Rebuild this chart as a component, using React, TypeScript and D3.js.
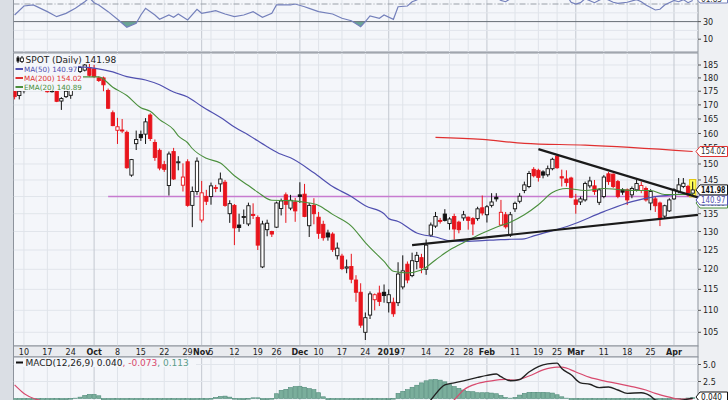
import * as d3 from 'd3';

// daily candles: date, open, high, low, close
const candles: [string, number, number, number, number][] = [
  ['2018-09-06', 175, 175.5, 172, 173], ['2018-09-07', 173.4, 175.3, 172, 175],
  ['2018-09-10', 175.2, 177, 174.2, 175.8], ['2018-09-11', 176, 178, 175.8, 177.5],
  ['2018-09-12', 177.5, 179, 176.5, 178], ['2018-09-13', 178, 179.5, 176.5, 177],
  ['2018-09-14', 177, 178.5, 176, 176.5], ['2018-09-17', 175.5, 176, 174.5, 174.8],
  ['2018-09-18', 175, 175.6, 174.5, 175.2], ['2018-09-19', 175.2, 175.6, 171, 171.3],
  ['2018-09-20', 171.4, 172.8, 168.2, 172.3], ['2018-09-21', 173, 175.3, 172.5, 175],
  ['2018-09-24', 173.5, 175.5, 172.2, 175.3], ['2018-09-25', 176, 181, 175.5, 180.5],
  ['2018-09-26', 182.5, 184.5, 181.5, 184], ['2018-09-27', 183, 186, 182.5, 185],
  ['2018-09-28', 184, 185.5, 180.5, 181], ['2018-10-01', 183.5, 185, 180, 180.5],
  ['2018-10-02', 180, 180.5, 178.5, 179], ['2018-10-03', 180, 180.5, 175, 177.4],
  ['2018-10-04', 175.3, 176, 168.5, 168.8], ['2018-10-05', 167.2, 168, 162.5, 162.7],
  ['2018-10-08', 161.1, 165.4, 156.5, 162.3], ['2018-10-09', 161.2, 165, 160.2, 161],
  ['2018-10-10', 160.4, 161, 148.5, 148.8], ['2018-10-11', 146.5, 151.6, 146, 151.4],
  ['2018-10-12', 156.6, 161, 154.5, 158], ['2018-10-15', 159.7, 161, 157.5, 158.6],
  ['2018-10-16', 159.8, 165.3, 156.5, 164], ['2018-10-17', 166.4, 167, 157.5, 158.3],
  ['2018-10-18', 157, 158, 151, 152.1], ['2018-10-19', 154.4, 155, 148, 148.7],
  ['2018-10-22', 149.8, 151, 147.5, 148.3], ['2018-10-23', 143.3, 154, 140.3, 153.2],
  ['2018-10-24', 154, 155.2, 145, 145.3], ['2018-10-25', 150.5, 152.5, 148, 150.7],
  ['2018-10-26', 143.4, 150.2, 141.5, 145.9], ['2018-10-29', 150.7, 151.5, 137, 137.4],
  ['2018-10-30', 137.4, 143, 131.2, 141.5], ['2018-10-31', 141.5, 152.1, 140.5, 150.9],
  ['2018-11-01', 133.2, 144.7, 132.5, 141.1], ['2018-11-02', 140, 142, 137.5, 138.6],
  ['2018-11-05', 140, 144.2, 137.6, 143.2], ['2018-11-06', 142.7, 143.5, 141.3, 142.4],
  ['2018-11-07', 143.8, 147.3, 141.4, 145.3], ['2018-11-08', 144.3, 145, 137, 137.4],
  ['2018-11-09', 135, 138.9, 132.4, 137.9], ['2018-11-12', 137.4, 137.8, 126.3, 131],
  ['2018-11-13', 131.8, 135, 129.9, 131.1], ['2018-11-14', 134, 136.2, 132.1, 134.2],
  ['2018-11-15', 132.1, 138.2, 131.5, 137.3], ['2018-11-16', 134.8, 138, 133.5, 134.5],
  ['2018-11-19', 133.9, 134.5, 125, 126.3], ['2018-11-20', 120.6, 133, 120.3, 132.1],
  ['2018-11-21', 130.5, 133.3, 128.7, 132.3], ['2018-11-23', 130, 130.2, 128.5, 129.3],
  ['2018-11-26', 131.2, 138.5, 131, 138.1], ['2018-11-27', 136.5, 139.4, 134.5, 138.7],
  ['2018-11-28', 140.5, 141.2, 132.4, 137.7], ['2018-11-29', 136.6, 140.5, 136, 138.9],
  ['2018-11-30', 138.4, 139.6, 132.7, 135.8], ['2018-12-03', 140.5, 144.3, 138.1, 140],
  ['2018-12-04', 140.7, 143.8, 134, 134.2], ['2018-12-06', 131.6, 138.1, 128.5, 137.4],
  ['2018-12-07', 137.4, 139.5, 132, 135], ['2018-12-10', 134, 135.5, 128, 129.5],
  ['2018-12-11', 132, 133, 127.5, 128.3], ['2018-12-12', 129.6, 130.5, 127.5, 128.5],
  ['2018-12-13', 129.3, 129.8, 124.5, 125.1], ['2018-12-14', 123.5, 127, 122.5, 125.5],
  ['2018-12-17', 123.4, 124, 119.8, 120.2], ['2018-12-18', 120.3, 122.5, 119, 120.6],
  ['2018-12-19', 120.7, 124, 116.5, 117.5], ['2018-12-20', 117.3, 118.5, 112, 114.3],
  ['2018-12-21', 114.3, 116.5, 106, 106.6], ['2018-12-24', 105, 109.5, 103.3, 108.3],
  ['2018-12-26', 108.9, 114.5, 108, 113.9], ['2018-12-27', 112.5, 114, 110, 113.7],
  ['2018-12-28', 114.1, 115.9, 111, 112.1], ['2018-12-31', 114.3, 116.2, 111.8, 113.5],
  ['2019-01-02', 111.8, 115, 109.5, 113.7], ['2019-01-03', 111.9, 113, 108.5, 109.2],
  ['2019-01-04', 111.8, 121.8, 111, 118.8], ['2019-01-07', 115.6, 123.6, 115, 119.6],
  ['2019-01-08', 121.3, 122, 116.5, 117.3], ['2019-01-09', 118.4, 124.3, 118, 122.2],
  ['2019-01-10', 122, 124.5, 120, 123.6], ['2019-01-11', 123, 124, 119, 120.4],
  ['2019-01-14', 120, 127.8, 118.6, 126.3], ['2019-01-15', 129, 132.5, 128.5, 131.8],
  ['2019-01-16', 131.5, 135.5, 131, 134.2], ['2019-01-17', 133.1, 133.8, 132.2, 132.9],
  ['2019-01-18', 134.9, 136.3, 132.8, 133.1], ['2019-01-22', 132.2, 134, 130.5, 133.5],
  ['2019-01-23', 134.2, 135, 127.8, 130.7], ['2019-01-24', 132.6, 133, 129.5, 130.5],
  ['2019-01-25', 133.8, 135.8, 133, 134.7], ['2019-01-28', 134, 134.2, 130.5, 133.1],
  ['2019-01-29', 133.6, 134, 129, 132.1], ['2019-01-30', 133.6, 137, 133, 136.4],
  ['2019-01-31', 136.7, 140.3, 134.5, 135.2], ['2019-02-01', 134.7, 137.5, 132.5, 137],
  ['2019-02-04', 137.4, 141, 136.8, 138.4], ['2019-02-05', 139.8, 141, 138.5, 139.3],
  ['2019-02-06', 131.8, 139, 131.5, 135.4], ['2019-02-07', 134.7, 135.5, 130.8, 131.3],
  ['2019-02-08', 129, 135.5, 128.5, 134.7], ['2019-02-11', 136.4, 138.5, 135.5, 138],
  ['2019-02-12', 138.6, 141, 138, 140.1], ['2019-02-13', 141.8, 144.5, 141, 143.5],
  ['2019-02-14', 143, 147.8, 142.5, 147], ['2019-02-15', 148.3, 149, 145.8, 146.3],
  ['2019-02-19', 148, 148.5, 144.5, 145.8], ['2019-02-20', 147.5, 148, 145.5, 146.5],
  ['2019-02-21', 146.6, 149.5, 146, 148.5], ['2019-02-22', 148.5, 152, 148, 151.5],
  ['2019-02-25', 152.5, 153, 148.5, 148.8], ['2019-02-26', 146, 148.2, 143, 145.6],
  ['2019-02-27', 145.3, 148, 143, 144.2], ['2019-02-28', 145.6, 146, 139.5, 139.8],
  ['2019-03-01', 139, 140.8, 135, 137.7], ['2019-03-04', 138.4, 140, 137.5, 139.3],
  ['2019-03-05', 139, 144.5, 138.5, 143.9], ['2019-03-06', 143.2, 146, 142.5, 144.7],
  ['2019-03-07', 143.2, 145, 140.5, 141.5], ['2019-03-08', 138.3, 142.5, 137.5, 142],
  ['2019-03-11', 140, 146.5, 139.5, 145.9], ['2019-03-12', 146.9, 147.5, 143.5, 144.5],
  ['2019-03-13', 146.8, 147, 142.5, 143], ['2019-03-14', 144.5, 145, 139.5, 140],
  ['2019-03-15', 142, 142.5, 140.5, 141.3], ['2019-03-18', 142, 142.4, 137.5, 139],
  ['2019-03-19', 140.5, 143, 139.5, 142.4], ['2019-03-20', 142, 145, 141.5, 143.9],
  ['2019-03-21', 141.8, 144.5, 141, 143.3], ['2019-03-22', 142.4, 143, 138.5, 139],
  ['2019-03-25', 138.1, 142.2, 136, 141.5], ['2019-03-26', 139.3, 140, 135.5, 137.3],
  ['2019-03-27', 138.1, 138.5, 131.5, 133.6], ['2019-03-28', 134.3, 137.6, 133.5, 137.3],
  ['2019-03-29', 135.8, 139.5, 135.5, 139], ['2019-04-01', 139.3, 142.5, 139, 142],
  ['2019-04-02', 141.5, 145.6, 141, 143.5], ['2019-04-03', 143, 145.6, 142.5, 144],
  ['2019-04-04', 143, 143.5, 140, 140.5], ['2019-04-05', 141, 144.5, 140.5, 141.98],
];

const ma50: [string, number][] = [
  ['2018-09-06', 186], ['2018-09-26', 184.3], ['2018-10-01', 183.8], ['2018-10-05', 182.3],
  ['2018-10-10', 180.5], ['2018-10-16', 179.2], ['2018-10-19', 177.4], ['2018-10-24', 174.7],
  ['2018-10-29', 172.9], ['2018-11-01', 169.5], ['2018-11-08', 164.5], ['2018-11-12', 162.2],
  ['2018-11-15', 159.5], ['2018-11-21', 155.6], ['2018-11-27', 153.1], ['2018-11-29', 152],
  ['2018-12-07', 147.2], ['2018-12-13', 143], ['2018-12-19', 140], ['2018-12-24', 137.3],
  ['2018-12-31', 135], ['2019-01-02', 133.6], ['2019-01-04', 132.8], ['2019-01-10', 129.6],
  ['2019-01-16', 128.5], ['2019-01-22', 127.5], ['2019-01-28', 127.3], ['2019-01-31', 127.5],
  ['2019-02-06', 127.8], ['2019-02-13', 128], ['2019-02-15', 128.8], ['2019-02-28', 131.8],
  ['2019-03-11', 135.6], ['2019-03-19', 138.5], ['2019-03-26', 140], ['2019-03-29', 140.4],
  ['2019-04-05', 140.97],
];

const ema20: [string, number][] = [
  ['2018-09-06', 176.5], ['2018-09-17', 177.5], ['2018-09-26', 180.4], ['2018-10-02', 180.4],
  ['2018-10-05', 176.5], ['2018-10-10', 173.4], ['2018-10-15', 169], ['2018-10-17', 167.7],
  ['2018-10-19', 164.8], ['2018-10-24', 161.3], ['2018-10-25', 159.2], ['2018-10-29', 156.9],
  ['2018-10-30', 155], ['2018-11-02', 151.8], ['2018-11-07', 150.3], ['2018-11-12', 146.3],
  ['2018-11-15', 143.3], ['2018-11-19', 141.3], ['2018-11-23', 138.9], ['2018-11-29', 138.8],
  ['2018-12-04', 138.3], ['2018-12-10', 137.4], ['2018-12-13', 134.8], ['2018-12-19', 131.5],
  ['2018-12-24', 127], ['2018-12-31', 122], ['2019-01-03', 119.5], ['2019-01-08', 119.1],
  ['2019-01-11', 119.8], ['2019-01-16', 122.4], ['2019-01-22', 125], ['2019-01-28', 127.6],
  ['2019-01-31', 129.5], ['2019-02-05', 131.2], ['2019-02-08', 132.6], ['2019-02-13', 134.7],
  ['2019-02-19', 137.6], ['2019-02-22', 141.2], ['2019-02-27', 142.4], ['2019-03-05', 141.8],
  ['2019-03-11', 142.4], ['2019-03-14', 142.1], ['2019-03-20', 141.8], ['2019-03-25', 141.8],
  ['2019-03-28', 140.6], ['2019-04-04', 140.6], ['2019-04-05', 140.89],
];

const ma200: [string, number][] = [
  ['2019-01-16', 158.7], ['2019-01-31', 158], ['2019-02-13', 156.7], ['2019-03-05', 156.1],
  ['2019-04-05', 154.02],
];

// hand drawn annotations
const lowerTrend: [string, number][] = [['2019-01-09', 126.3], ['2019-04-05', 134.5]];
const upperTrend: [string, number][] = [['2019-02-19', 154.8], ['2019-04-05', 140.2]];
const levelLine = { from: '2018-10-04', value: 140 };

const rsi: [string, number][] = [
  ['2018-09-06', 37.5], ['2018-09-10', 47.7], ['2018-09-12', 48.9], ['2018-09-17', 41.3],
  ['2018-09-19', 35.6], ['2018-09-21', 39.4], ['2018-09-25', 45.1], ['2018-09-27', 52.6],
  ['2018-09-28', 57], ['2018-10-01', 51.5], ['2018-10-02', 48.9], ['2018-10-04', 41.3],
  ['2018-10-08', 32.6], ['2018-10-10', 23.5], ['2018-10-12', 28.1], ['2018-10-15', 37.5],
  ['2018-10-16', 45.1], ['2018-10-18', 37.5], ['2018-10-19', 32.6], ['2018-10-23', 37.5],
  ['2018-10-24', 34.9], ['2018-10-25', 38.6], ['2018-10-29', 31.8], ['2018-10-31', 44],
  ['2018-11-01', 39.4], ['2018-11-05', 41.3], ['2018-11-06', 42.4], ['2018-11-08', 38.6],
  ['2018-11-12', 35.6], ['2018-11-14', 37.5], ['2018-11-16', 41.3], ['2018-11-20', 34.9],
  ['2018-11-23', 39.4], ['2018-11-26', 48.9], ['2018-11-29', 48.9], ['2018-11-30', 50],
  ['2018-12-04', 46.9], ['2018-12-06', 45.1], ['2018-12-10', 41.3], ['2018-12-13', 38.6],
  ['2018-12-17', 33.8], ['2018-12-19', 31], ['2018-12-21', 24.2], ['2018-12-24', 29.9],
  ['2018-12-26', 36.4], ['2018-12-28', 33.8], ['2018-12-31', 37.5], ['2019-01-03', 32.6],
  ['2019-01-04', 46.9], ['2019-01-08', 47.7], ['2019-01-09', 52.6], ['2019-01-10', 54.5],
  ['2019-01-14', 62], ['2019-01-16', 66], ['2019-01-18', 64], ['2019-01-23', 59],
  ['2019-01-28', 60], ['2019-01-31', 63], ['2019-02-04', 61], ['2019-02-06', 54],
  ['2019-02-07', 52.6], ['2019-02-08', 56], ['2019-02-13', 63], ['2019-02-19', 68],
  ['2019-02-25', 70], ['2019-02-27', 60], ['2019-02-28', 52], ['2019-03-01', 50],
  ['2019-03-04', 51.5], ['2019-03-05', 56], ['2019-03-07', 51.5], ['2019-03-11', 57],
  ['2019-03-13', 52], ['2019-03-14', 50.8], ['2019-03-18', 52], ['2019-03-20', 55],
  ['2019-03-21', 52.6], ['2019-03-22', 48.9], ['2019-03-26', 43.2], ['2019-03-27', 44],
  ['2019-03-28', 48.9], ['2019-04-01', 54], ['2019-04-02', 52.6], ['2019-04-03', 55],
  ['2019-04-04', 51.5], ['2019-04-05', 54],
];

const macd: [string, number][] = [
  ['2018-09-06', -0.5], ['2018-10-08', -3], ['2018-11-05', -6], ['2018-12-04', -4.5],
  ['2018-12-27', -7], ['2019-01-10', -2.5], ['2019-01-15', -0.2], ['2019-01-18', 2.0],
  ['2019-01-23', 2.3], ['2019-01-25', 2.6], ['2019-01-30', 3.1], ['2019-02-01', 3.4],
  ['2019-02-05', 3.6], ['2019-02-06', 3.2], ['2019-02-08', 2.6], ['2019-02-12', 2.8],
  ['2019-02-14', 3.9], ['2019-02-19', 4.7], ['2019-02-21', 5.1], ['2019-02-25', 5.2],
  ['2019-02-26', 4.4], ['2019-02-28', 3.5], ['2019-03-04', 2.3], ['2019-03-06', 2.1],
  ['2019-03-08', 1.6], ['2019-03-12', 1.7], ['2019-03-14', 1.25], ['2019-03-18', 0.75],
  ['2019-03-21', 0.85], ['2019-03-25', 0.35], ['2019-03-26', -0.2], ['2019-03-29', -0.5],
  ['2019-04-03', -0.2], ['2019-04-05', 0.04],
];

const signal: [string, number][] = [
  ['2018-09-06', 2.0], ['2018-09-10', 0.75], ['2018-09-13', -0.2], ['2018-10-08', -2],
  ['2018-11-19', -5], ['2018-12-27', -5.5], ['2019-01-14', -2.5], ['2019-01-17', -1.2],
  ['2019-01-23', -0.2], ['2019-01-25', 1.25], ['2019-01-30', 2.2], ['2019-02-04', 2.6],
  ['2019-02-07', 2.8], ['2019-02-11', 2.7], ['2019-02-14', 3.3], ['2019-02-20', 4.2],
  ['2019-02-25', 4.6], ['2019-02-26', 4.6], ['2019-03-01', 3.9], ['2019-03-06', 3.1],
  ['2019-03-11', 2.6], ['2019-03-14', 2.2], ['2019-03-19', 1.75], ['2019-03-22', 1.25],
  ['2019-03-26', 0.75], ['2019-03-29', 0.2], ['2019-04-02', -0.1], ['2019-04-05', -0.073],
];

// histogram, one value per candle
const hist: number[] = [
  -1.2, -1.0, -0.9, -0.8, -0.6, -0.5, -0.4, -0.4, -0.3, -0.3, -0.2, -0.2, -0.1, 0.05,
  0.2, 0.45, 0.6, 0.6, 0.4,
  -0.2, -0.8, -1.5, -2.0, -2.2, -2.6, -2.3, -1.8, -1.4, -1.0, -1.0, -1.1, -1.0, -0.9, -0.6, -0.7,
  -0.5, -0.7, -0.6, -0.2, -0.5, -0.4, -0.3, -0.1,
  0.15, 0.3, 0.35, 0.2, -0.1, -0.3, -0.2, -0.1, 0.1, 0.1, -0.2, -0.2, -0.1,
  0.7, 1.2, 1.35, 1.6, 1.75, 1.8, 1.65, 1.45, 1.3, 0.85, 0.25,
  -0.2, -0.4, -0.5, -0.7, -0.8, -0.9, -1.1, -1.4, -1.2, -0.9, -0.8, -0.6, -0.4, -0.2, -0.1,
  0.75, 1.05, 1.3, 1.65, 1.95, 2.3, 2.6, 2.75, 2.8, 2.7, 2.45, 2.05, 1.75, 1.5, 1.25, 1.05,
  1.0, 0.85, 0.85, 0.85, 0.8, 0.7, 0.45, 0.15, 0.05, 0.15, 0.5, 0.75, 0.9, 0.9, 0.9, 0.9,
  0.85, 0.8, 0.55, 0.25, 0.05,
  -0.3, -0.6, -0.8, -0.9, -0.9, -0.9, -0.9, -0.8, -0.7, -0.7, -0.6, -0.5, -0.5, -0.4, -0.4,
  -0.4, -0.3, -0.3, -0.3, -0.3, -0.2, -0.2, -0.1, -0.05,
  0.02, 0.07, 0.113,
];

const xTicks: [string, string][] = [
  ['2018-09-10', '10'], ['2018-09-17', '17'], ['2018-09-24', '24'], ['2018-10-01', 'Oct'],
  ['2018-10-08', '8'], ['2018-10-15', '15'], ['2018-10-22', '22'], ['2018-10-29', '29'],
  ['2018-11-01', 'Nov'], ['2018-11-05', '5'], ['2018-11-12', '12'], ['2018-11-19', '19'],
  ['2018-11-26', '26'], ['2018-12-03', 'Dec'], ['2018-12-10', '10'], ['2018-12-17', '17'],
  ['2018-12-24', '24'], ['2019-01-02', '2019'], ['2019-01-07', '7'], ['2019-01-14', '14'],
  ['2019-01-22', '22'], ['2019-01-28', '28'], ['2019-02-01', 'Feb'], ['2019-02-11', '11'],
  ['2019-02-19', '19'], ['2019-02-25', '25'], ['2019-03-01', 'Mar'], ['2019-03-11', '11'],
  ['2019-03-18', '18'], ['2019-03-25', '25'], ['2019-04-01', 'Apr'],
];
const monthLabels = ['Oct', 'Nov', 'Dec', '2019', 'Feb', 'Mar', 'Apr'];
const priceTicks = [105, 110, 115, 120, 125, 130, 135, 140, 145, 150, 155, 160, 165, 170, 175, 180, 185];
const rsiTicks = [10, 30];
const macdTicks = [2.5, 5.0];

const FONT = "'DejaVu Sans', Verdana, sans-serif";
const RED = '#e8141c';
const BLUE = '#5050b0';
const GREEN = '#4a8f3c';
const MAROON = '#e03030';

function PriceTag({ y, text, stroke, color, bold }: { y: number; text: string; stroke: string; color: string; bold?: boolean }) {
  const pts = `696,${y} 700,${y - 5} 727.5,${y - 5} 727.5,${y + 5} 700,${y + 5}`;
  return (
    <g>
      <polygon points={pts} fill="#fff" stroke={stroke} strokeWidth={1} />
      <text
        x={701}
        y={y + 3}
        fontSize={8}
        fill={color}
        fontWeight={bold ? 700 : 400}
        fontFamily={FONT}
        textLength={text.length > 5 ? 24.5 : 21}
        lengthAdjust="spacingAndGlyphs"
      >
        {text}
      </text>
    </g>
  );
}

export default function App() {
  const W = 728;
  const H = 400;
  const L = 13.5;
  const R = 698;
  const mainTop = 53;
  const mainBot = 346;
  const rsiBot = 52;
  const macdTop = 357;

  const dates = candles.map((d) => d[0]);
  const x = d3.scalePoint<string>().domain(dates).range([14.6, 692.7]);
  const y = d3.scaleLog().domain([105, 185]).range([332.3, 65]);
  const yR = d3.scaleLinear().domain([10, 30]).range([39.2, 21.6]);
  const yM = d3.scaleLinear().domain([0, 5]).range([398.5, 364.5]);
  const step = x.step();
  const bw = step * 0.7;

  const priceLine = d3
    .line<[string, number]>()
    .x((d) => x(d[0])!)
    .y((d) => y(d[1]))
    .curve(d3.curveMonotoneX);
  const rsiLine = d3
    .line<[string, number]>()
    .x((d) => x(d[0])!)
    .y((d) => yR(d[1]))
    .curve(d3.curveLinear);
  const rsiArea = d3
    .area<[string, number]>()
    .x((d) => x(d[0])!)
    .y0(yR(30))
    .y1((d) => yR(d[1]));
  const macdLine = d3
    .line<[string, number]>()
    .x((d) => x(d[0])!)
    .y((d) => yM(d[1]))
    .curve(d3.curveMonotoneX);

  const trend = (pts: [string, number][]) => {
    const x1 = x(pts[0][0])!;
    const y1 = y(pts[0][1]);
    const x2 = x(pts[1][0])!;
    const y2 = y(pts[1][1]);
    const slope = (y2 - y1) / (x2 - x1);
    return { x1, y1, x2: R, y2: y2 + slope * (R - x2) };
  };
  const lt = trend(lowerTrend);
  const ut = trend(upperTrend);

  const last = candles[candles.length - 1];

  const vGrid = (top: number, bot: number) =>
    xTicks.map(([d, lab]) => (
      <line
        key={d + top}
        x1={x(d)}
        x2={x(d)}
        y1={top}
        y2={bot}
        stroke={monthLabels.includes(lab) ? '#c3c8d0' : '#dfe3e9'}
        strokeWidth={1}
      />
    ));

  const legend = [
    { t: 'SPOT (Daily) 141.98', c: '#222', w: 105, fs: 9 },
    { t: 'MA(50) 140.97', c: BLUE, w: 64, fs: 7.2 },
    { t: 'MA(200) 154.02', c: MAROON, w: 69, fs: 7.2 },
    { t: 'EMA(20) 140.89', c: GREEN, w: 68, fs: 7.2 },
  ];

  return (
    <div style={{ position: 'absolute', left: 0, top: 0 }}>
      <svg width={W} height={H} style={{ display: 'block', fontFamily: FONT }}>
        <defs>
          <clipPath id="cMain">
            <rect x={L} y={mainTop} width={R - L} height={mainBot - mainTop} />
          </clipPath>
          <clipPath id="cRsi">
            <rect x={L} y={0} width={R - L} height={rsiBot} />
          </clipPath>
          <clipPath id="cRsiLow">
            <rect x={L} y={yR(30)} width={R - L} height={rsiBot - yR(30)} />
          </clipPath>
          <clipPath id="cMacd">
            <rect x={L} y={macdTop} width={R - L} height={H - macdTop} />
          </clipPath>
        </defs>

        <rect x={0} y={0} width={W} height={H} fill="#dadee4" />
        <rect x={R} y={0} width={W - R} height={H} fill="#eef0f3" />

        {/* RSI panel */}
        <rect x={L} y={-1} width={R - L} height={rsiBot + 1} fill="#f4f6fa" stroke="#8d939c" />
        <g clipPath="url(#cRsi)">
          {vGrid(0, rsiBot)}
          {[20, 40].map((v) => (
            <line key={v} x1={L} x2={R} y1={yR(v)} y2={yR(v)} stroke="#e1e5eb" />
          ))}
          <line x1={L} x2={R} y1={yR(10)} y2={yR(10)} stroke="#e1e5eb" />
          <line x1={L} x2={R} y1={yR(50)} y2={yR(50)} stroke="#9aa0a8" strokeDasharray="6,2,1,2" />
          <g clipPath="url(#cRsiLow)">
            <path d={rsiArea(rsi) ?? ''} fill="#6aa596" />
          </g>
          <line x1={L} x2={R} y1={yR(30)} y2={yR(30)} stroke="#6b7078" />
          <path d={rsiLine(rsi) ?? ''} fill="none" stroke="#7480bb" strokeWidth={1.2} />
        </g>
        {rsiTicks.map((v) => (
          <g key={v}>
            <line x1={R} x2={R + 3} y1={yR(v)} y2={yR(v)} stroke="#555" />
            <text x={703} y={yR(v) + 3} fontSize={8} fill="#222">
              {v}
            </text>
          </g>
        ))}
        <g>
          <polygon points="696,-2 700,-7 727.5,-7 727.5,3 700,3" fill="#fff" stroke="#7480bb" />
          <text x={701} y={2} fontSize={8} fill="#333" textLength={21} lengthAdjust="spacingAndGlyphs">
            61.83
          </text>
        </g>

        {/* main panel */}
        <rect x={L} y={mainTop} width={R - L} height={mainBot - mainTop} fill="#f4f6fa" stroke="#8d939c" />
        <g clipPath="url(#cMain)">
          {priceTicks.map((p) => (
            <line key={p} x1={L} x2={R} y1={y(p)} y2={y(p)} stroke="#e1e5eb" />
          ))}
          {vGrid(mainTop, mainBot)}
          <line
            x1={x(levelLine.from)}
            x2={R}
            y1={y(levelLine.value)}
            y2={y(levelLine.value)}
            stroke="#c77bd0"
            strokeWidth={1.6}
          />
          <rect
            x={x(last[0])! - bw / 2 - 1.5}
            y={y(last[2]) - 2}
            width={bw + 3}
            height={y(last[3]) - y(last[2]) + 4}
            fill="#ffff5a"
            stroke="#e2c400"
          />
          {candles.map((c, i) => {
            const [d, o, h, l, cl] = c;
            const prev = i > 0 ? candles[i - 1][4] : o;
            const col = cl < prev ? RED : '#111';
            const hollow = cl >= o;
            const cx = x(d)!;
            const top = y(Math.max(o, cl));
            const bot = y(Math.min(o, cl));
            return (
              <g key={d}>
                <line x1={cx} x2={cx} y1={y(h)} y2={y(l)} stroke={col} strokeWidth={1} />
                <rect
                  x={cx - bw / 2}
                  y={top}
                  width={bw}
                  height={Math.max(bot - top, 1)}
                  fill={hollow ? '#fff' : col}
                  stroke={col}
                  strokeWidth={0.9}
                />
              </g>
            );
          })}
          <path d={priceLine(ma200) ?? ''} fill="none" stroke={MAROON} strokeWidth={1.2} />
          <path d={priceLine(ma50) ?? ''} fill="none" stroke={BLUE} strokeWidth={1.2} />
          <path d={priceLine(ema20) ?? ''} fill="none" stroke={GREEN} strokeWidth={1.1} />
          <line x1={lt.x1} y1={lt.y1} x2={lt.x2} y2={lt.y2} stroke="#1a1a1a" strokeWidth={2.2} />
          <line x1={ut.x1} y1={ut.y1} x2={ut.x2} y2={ut.y2} stroke="#1a1a1a" strokeWidth={2.2} />
        </g>

        {/* legend */}
        {legend.map((g, i) => {
          const ly = 55 + i * 9;
          return (
            <g key={g.t}>
              <rect x={L + 0.5} y={ly} width={g.w} height={9} fill="#f4f6fa" />
              {i === 0 ? (
                <g>
                  <line x1={18} x2={18} y1={ly + 1} y2={ly + 8} stroke="#111" />
                  <rect x={16.5} y={ly + 2.5} width={3} height={4} fill="#111" />
                  <line x1={22} x2={22} y1={ly + 1} y2={ly + 8} stroke="#111" />
                  <rect x={20.5} y={ly + 3} width={3} height={3.5} fill="#fff" stroke="#111" strokeWidth={0.8} />
                </g>
              ) : (
                <line x1={15.5} x2={23} y1={ly + 5} y2={ly + 5} stroke={g.c} strokeWidth={2} />
              )}
              <text x={i === 0 ? 25.5 : 24} y={ly + 7.8} fontSize={g.fs} fill={g.c}>
                {g.t}
              </text>
            </g>
          );
        })}

        {/* price axis */}
        {priceTicks.map((p) => (
          <g key={p}>
            <line x1={R} x2={R + 3} y1={y(p)} y2={y(p)} stroke="#555" />
            <text x={703} y={y(p) + 3} fontSize={8} fill="#222">
              {p}
            </text>
          </g>
        ))}
        <PriceTag y={y(154.02)} text="154.02" stroke={MAROON} color="#333" />
        <PriceTag y={203} text="140.89" stroke={GREEN} color={GREEN} />
        <PriceTag y={200} text="140.97" stroke={BLUE} color={BLUE} />
        <PriceTag y={y(141.98)} text="141.98" stroke="#111" color="#111" bold />

        {/* date axis strip */}
        <rect x={L} y={mainBot} width={R - L} height={macdTop - mainBot} fill="#e9ebef" stroke="#8d939c" />
        {xTicks.map(([d, lab]) => (
          <text
            key={d}
            x={x(d)}
            y={mainBot + 8.5}
            fontSize={8}
            textAnchor="middle"
            fontWeight={monthLabels.includes(lab) ? 700 : 400}
            fill="#222"
          >
            {lab}
          </text>
        ))}

        {/* MACD panel */}
        <rect x={L} y={macdTop} width={R - L} height={H - macdTop + 2} fill="#f4f6fa" stroke="#8d939c" />
        <g clipPath="url(#cMacd)">
          {vGrid(macdTop, H)}
          {macdTicks.map((v) => (
            <line key={v} x1={L} x2={R} y1={yM(v)} y2={yM(v)} stroke="#e1e5eb" />
          ))}
          {hist.map((v, i) => {
            const cx = x(dates[i])!;
            const y0 = yM(0);
            const y1 = yM(v);
            return (
              <rect
                key={i}
                x={cx - step / 2 + 0.3}
                y={Math.min(y0, y1)}
                width={step - 0.6}
                height={Math.abs(y1 - y0)}
                fill="#7aae9c"
                stroke="#4f8a78"
                strokeWidth={0.6}
              />
            );
          })}
          <path d={macdLine(signal) ?? ''} fill="none" stroke="#d84a6e" strokeWidth={1.2} />
          <path d={macdLine(macd) ?? ''} fill="none" stroke="#222" strokeWidth={1.4} />
        </g>
        <rect x={L + 0.5} y={macdTop + 1} width={182} height={9} fill="#f4f6fa" />
        <line x1={16} x2={23} y1={macdTop + 5.5} y2={macdTop + 5.5} stroke="#111" strokeWidth={2} />
        <text x={25.5} y={macdTop + 9} fontSize={9} fill="#222">
          MACD(12,26,9) 0.040
          <tspan fill="#d84a6e">, -0.073</tspan>
          <tspan fill="#5c9c8a">, 0.113</tspan>
        </text>
        {macdTicks.map((v) => (
          <g key={v}>
            <line x1={R} x2={R + 3} y1={yM(v)} y2={yM(v)} stroke="#555" />
            <text x={703} y={yM(v) + 3} fontSize={8} fill="#222">
              {v.toFixed(1)}
            </text>
          </g>
        ))}
        <PriceTag y={397} text="0.040" stroke="#111" color="#111" />
      </svg>
    </div>
  );
}
